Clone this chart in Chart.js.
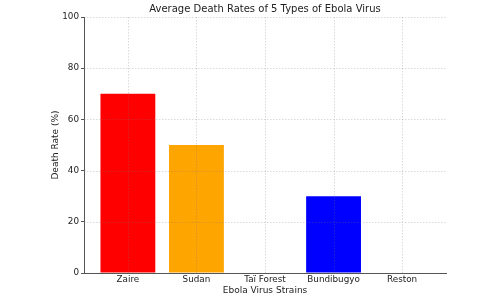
<!DOCTYPE html>
<html>
<head>
<meta charset="utf-8">
<script src="https://cdn.jsdelivr.net/npm/chart.js@4"></script>
<style>
html,body{margin:0;padding:0;background:#fff;}
#wrap{width:500px;height:300px;}
</style>
</head>
<body>
<div id="wrap"><canvas id="c" width="500" height="300"></canvas></div>
<script>
const strains = ["Zaire", "Sudan", "Taï Forest", "Bundibugyo", "Reston"];
const deathRates = [70, 50, 0, 30, 0];
const barColors = ["#ff0000", "#ffa500", "#008000", "#0000ff", "#800080"];
const yTicks = [0, 20, 40, 60, 80, 100];

const FONT = "'DejaVu Sans', sans-serif";
const gridColor = "rgba(120,120,120,0.35)";

// grid drawn above the bars, as in the reference
const overGrid = {
  id: "overGrid",
  afterDatasetsDraw(chart) {
    const {ctx, chartArea: a, scales: {x, y}} = chart;
    ctx.save();
    ctx.strokeStyle = gridColor;
    ctx.lineWidth = 0.8;
    ctx.setLineDash([1.5, 1.5]);
    ctx.beginPath();
    x.ticks.forEach(t => {
      const px = Math.round(x.getPixelForValue(t.value)) + 0.5;
      ctx.moveTo(px, a.top); ctx.lineTo(px, a.bottom);
    });
    y.ticks.forEach(t => {
      if (t.value === 0) return;
      const py = Math.round(y.getPixelForValue(t.value)) + 0.5;
      ctx.moveTo(a.left, py); ctx.lineTo(a.right, py);
    });
    ctx.stroke();
    ctx.restore();
  }
};

new Chart(document.getElementById("c"), {
  type: "bar",
  data: {
    datasets: [{
      data: strains.map((s, i) => ({x: i, y: deathRates[i]})),
      backgroundColor: barColors,
      borderWidth: 0,
      barPercentage: 0.8,
      categoryPercentage: 1.0
    }]
  },
  plugins: [overGrid],
  options: {
    responsive: false,
    animation: false,
    layout: {padding: {left: 0, right: 54, top: 0, bottom: 0}},
    plugins: {
      legend: {display: false},
      tooltip: {enabled: false},
      title: {
        display: true,
        fullSize: false,
        text: "Average Death Rates of 5 Types of Ebola Virus",
        color: "#222",
        font: {family: FONT, size: 10, weight: "normal", lineHeight: 1.2},
        padding: {top: 3, bottom: 2}
      }
    },
    scales: {
      x: {
        type: "linear",
        min: -0.64,
        max: 4.64,
        offset: false,
        afterBuildTicks: s => { s.ticks = strains.map((_, i) => ({value: i})); },
        afterFit: s => { s.height = 27; },
        ticks: {
          callback: v => strains[v],
          color: "#222",
          font: {family: FONT, size: 8.8},
          padding: 0,
          autoSkip: false,
          maxRotation: 0
        },
        grid: {display: false, drawTicks: true, tickLength: 1},
        border: {display: true, color: "#555", width: 1},
        title: {
          display: true,
          text: "Ebola Virus Strains",
          color: "#222",
          font: {family: FONT, size: 9},
          padding: {top: 0, bottom: 4}
        }
      },
      y: {
        min: 0,
        max: 100,
        afterBuildTicks: s => { s.ticks = yTicks.map(v => ({value: v})); },
        afterFit: s => { s.width = 84; },
        ticks: {
          color: "#222",
          font: {family: FONT, size: 8.8},
          padding: 2
        },
        grid: {display: true, drawOnChartArea: false, drawTicks: true, tickLength: 3, color: "#555"},
        border: {display: true, color: "#555", width: 1},
        title: {
          display: true,
          text: "Death Rate (%)",
          color: "#222",
          font: {family: FONT, size: 9},
          padding: {top: 50, bottom: 0}
        }
      }
    }
  }
});
</script>
</body>
</html>
